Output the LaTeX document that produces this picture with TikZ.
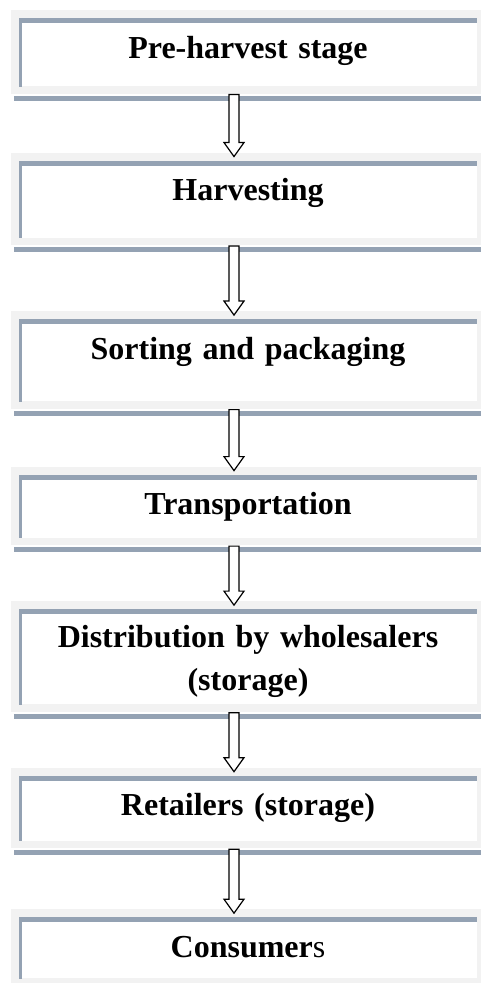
\documentclass[tikz,border=0pt]{standalone}
\usepackage{fontspec}
\setmainfont{Liberation Serif}
\usetikzlibrary{positioning,calc,backgrounds}

\definecolor{framegray}{HTML}{F2F2F2}
\definecolor{rulegray}{HTML}{94A2B3}

% hollow block arrow from the bar under #1 down to the top of #2
\newcommand{\stagearrow}[2]{%
  \draw[flowarrow] let \p1=($(#1.south)+(-10.5pt,-6pt)$), \p2=($(#2.north)+(-10.5pt,3pt)$) in
    (\x1-3.75pt,\y1) -- (\x1+3.75pt,\y1) -- (\x1+3.75pt,\y2+10.5pt) -- (\x1+7.5pt,\y2+10.5pt)
    -- (\x1,\y2) -- (\x1-7.5pt,\y2+10.5pt) -- (\x1-3.75pt,\y2+10.5pt) -- cycle;}

\begin{document}
\begin{tikzpicture}[
    stagebox/.style={rectangle, fill=white, anchor=north, inner sep=0pt,
      minimum width=343.5pt, text width=340pt, align=center, text height=30pt,
      font=\bfseries\fontsize{24}{32.25}\selectfont},
    flowarrow/.style={draw=black, fill=white, line width=0.9pt, line join=miter}]
	\useasboundingbox (0,0) rectangle (360pt,-737.25pt);

	\node[stagebox, text depth=21pt]                       (pre)   at (186pt,-13.5pt) {Pre-harvest stage};
	\node[stagebox, text depth=27.75pt, below=55.5pt of pre]  (harv)  {Harvesting};
	\node[stagebox, text depth=31.5pt, below=60.75pt of harv] (sort)  {Sorting and packaging};
	\node[stagebox, text depth=17.25pt, below=54.75pt of sort] (trans) {Transportation};
	\node[stagebox, text height=28.5pt, text depth=42.75pt, below=53.25pt of trans] (dist) {Distribution by wholesalers\\(storage)};
	\node[stagebox, text depth=18.75pt, below=53.25pt of dist] (ret)   {Retailers (storage)};
	\node[stagebox, text depth=15.75pt, below=57pt of ret]     (cons)  {Consumer\textmd{s}};

	% light frame behind every box
	\begin{scope}[on background layer]
		\fill[white] (0,0) rectangle (360pt,-737.25pt);
		\foreach \n in {pre,harv,sort,trans,dist,ret,cons}
			\fill[framegray] ($(\n.north west)+(-6pt,6pt)$) rectangle ($(\n.south east)+(3pt,-5.25pt)$);
	\end{scope}

	% top and left rules, bar underneath
	\foreach \n in {pre,harv,sort,trans,dist,ret,cons} {
		\fill[rulegray] (\n.north west) rectangle ($(\n.north east)+(0,-3.75pt)$);
		\fill[rulegray] (\n.north west) rectangle ($(\n.south west)+(2.25pt,0)$);
	}
	\foreach \n in {pre,harv,sort,trans,dist,ret}
		\fill[rulegray] ($(\n.south west)+(-3.75pt,-6.75pt)$) rectangle ($(\n.south east)+(3pt,-10.5pt)$);

	\stagearrow{pre}{harv}
	\stagearrow{harv}{sort}
	\stagearrow{sort}{trans}
	\stagearrow{trans}{dist}
	\stagearrow{dist}{ret}
	\stagearrow{ret}{cons}
\end{tikzpicture}
\end{document}
